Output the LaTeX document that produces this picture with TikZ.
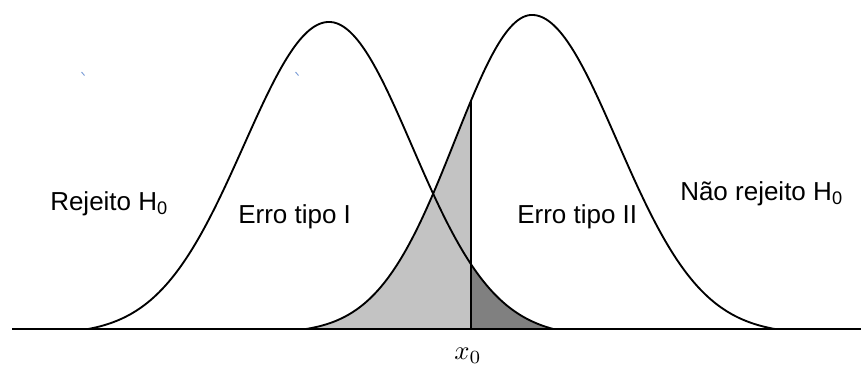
\documentclass[tikz,border=0pt]{standalone}
\usepackage{fontspec}
\setmainfont{Liberation Sans}
\definecolor{lightg}{HTML}{C3C3C3}
\definecolor{darkg}{HTML}{808080}
\definecolor{markblue}{HTML}{7FA0D8}
\begin{document}
\begin{tikzpicture}[x=0.75pt,y=0.75pt,
  curve/.style={line width=1.4pt,line join=round},
  lbl/.style={inner sep=0pt,anchor=base west,font=\fontsize{19.5}{20}\selectfont},
  declare function={
    gL(\x)=(exp(-0.5*((\x-329)/85)^2)-0.018)/(1-0.018);
    gR(\x)=(exp(-0.5*((\x-329)/83)^2)-0.0259)/(1-0.0259);
    hL(\x)=(exp(-0.5*((\x-532)/77)^2)-0.0134)/(1-0.0134);
    hR(\x)=(exp(-0.5*((\x-532)/85)^2)-0.0168)/(1-0.0168);
  }]
\useasboundingbox (0,0) rectangle (861,365);
% fills
\fill[lightg] (306,36) -- plot[domain=306:471,samples=80] ({\x},{36+314*hL(\x)}) -- (471,36) -- cycle;
\fill[darkg] (471,36) -- plot[domain=471:553,samples=60] ({\x},{36+307*gR(\x)}) -- (553,36) -- cycle;
% curves
\draw[curve] plot[domain=88:329,samples=120] ({\x},{36+307*gL(\x)})
  -- plot[domain=329:553,samples=120] ({\x},{36+307*gR(\x)});
\draw[curve] plot[domain=306:532,samples=120] ({\x},{36+314*hL(\x)})
  -- plot[domain=532:775,samples=120] ({\x},{36+314*hR(\x)});
% axis
\coordinate (axL) at (12,36);
\coordinate (axR) at (861,36);
\draw[line width=1.4pt] (axL) -- (axR);
% x0 line
\coordinate (x0b) at (471,36);
\coordinate (x0t) at (471,{36+314*hL(471)});
\draw[line width=1.4pt] (x0b) -- (x0t);
% labels
\node[lbl] (rej) at (50,155) {Rejeito H\textsubscript{0}};
\node[lbl] (e1) at (238,142) {Erro tipo I};
\node[lbl] (e2) at (517,142) {Erro tipo II};
\node[lbl] (nrej) at (680,165) {Não rejeito H\textsubscript{0}};
\node[inner sep=0pt,anchor=base] (x0) at (468,6) {\scalebox{2}{$x_0$}};
% small blue marks
\draw[markblue,line width=0.7pt] (81.5,293) to[bend left=20] (84.5,289.5);
\draw[markblue,line width=0.7pt] (295.5,293) to[bend left=20] (298.5,289.5);
\end{tikzpicture}
\end{document}
